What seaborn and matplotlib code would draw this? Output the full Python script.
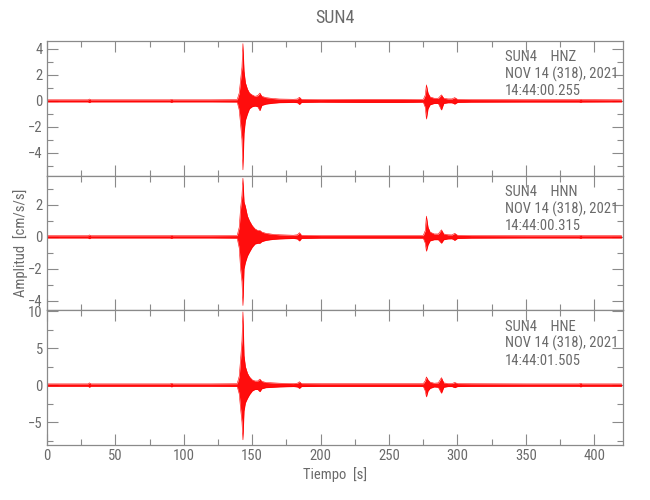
import numpy as np
import pandas as pd
import matplotlib
matplotlib.use("Agg")
import matplotlib.pyplot as plt
from matplotlib.ticker import MultipleLocator
from matplotlib import font_manager
import seaborn as sns

# ---- data (envelope of the traces) ----
title = "SUN4"
channels = ["HNZ", "HNN", "HNE"]
start_times = ["14:44:00.255", "14:44:00.315", "14:44:01.505"]
date_label = "NOV 14 (318), 2021"

t = [0, 10, 30, 31, 32, 60, 90, 91, 92, 120, 139, 140.5, 141.5, 142.5, 143.2, 144, 145,
     146.5, 148, 150, 152, 154, 155.6, 157, 160, 165, 170, 180, 183, 184.5, 186, 200,
     230, 260, 275, 276.5, 277.3, 278.5, 280, 283, 286, 288.3, 290, 293, 296, 298, 300,
     310, 350, 389, 390, 391, 420]

hnz_up = [0.08, 0.08, 0.08, 0.14, 0.08, 0.08, 0.08, 0.12, 0.08, 0.08, 0.09, 0.6, 1.6, 2.6,
          4.4, 2.3, 1.4, 0.9, 0.6, 0.45, 0.35, 0.4, 0.6, 0.35, 0.25, 0.18, 0.14, 0.12, 0.14,
          0.28, 0.12, 0.1, 0.12, 0.12, 0.1, 0.45, 1.23, 0.6, 0.3, 0.2, 0.2, 0.46, 0.2,
          0.15, 0.15, 0.25, 0.12, 0.1, 0.09, 0.09, 0.12, 0.09, 0.08]
hnz_lo = [-0.08, -0.08, -0.08, -0.14, -0.08, -0.08, -0.08, -0.12, -0.08, -0.08, -0.09, -0.7,
          -1.8, -3.0, -5.3, -2.5, -1.5, -1.0, -0.6, -0.45, -0.4, -0.45, -0.75, -0.35, -0.25,
          -0.18, -0.14, -0.12, -0.14, -0.28, -0.12, -0.1, -0.12, -0.12, -0.1, -0.5, -1.4,
          -0.6, -0.3, -0.2, -0.2, -0.7, -0.2, -0.15, -0.15, -0.25, -0.12, -0.1, -0.09,
          -0.09, -0.12, -0.09, -0.08]

hnn_up = [0.07, 0.07, 0.07, 0.12, 0.07, 0.07, 0.07, 0.1, 0.07, 0.07, 0.08, 0.6, 1.8, 2.6,
          3.67, 2.2, 1.9, 1.3, 1.0, 0.7, 0.5, 0.4, 0.4, 0.3, 0.22, 0.16, 0.13, 0.1,
          0.13, 0.26, 0.1, 0.08, 0.08, 0.08, 0.08, 0.4, 1.3, 0.6, 0.3, 0.18, 0.18, 0.44,
          0.18, 0.13, 0.12, 0.22, 0.1, 0.08, 0.07, 0.07, 0.1, 0.07, 0.07]
hnn_lo = [-0.07, -0.07, -0.07, -0.12, -0.07, -0.07, -0.07, -0.1, -0.07, -0.07, -0.08, -0.7,
          -2.0, -2.8, -4.3, -2.0, -1.6, -1.2, -0.95, -0.65, -0.45, -0.4, -0.4, -0.3, -0.22,
          -0.16, -0.13, -0.1, -0.13, -0.26, -0.1, -0.08, -0.08, -0.08, -0.08, -0.4, -0.9,
          -0.5, -0.25, -0.18, -0.18, -0.4, -0.18, -0.13, -0.12, -0.22, -0.1, -0.08, -0.07,
          -0.07, -0.1, -0.07, -0.07]

hne_up = [0.16, 0.16, 0.16, 0.3, 0.16, 0.16, 0.16, 0.25, 0.16, 0.16, 0.18, 1.2, 3.5, 6.0,
          9.9, 4.0, 2.5, 1.6, 1.1, 0.7, 0.55, 0.55, 0.8, 0.5, 0.35, 0.3, 0.25, 0.2, 0.25,
          0.45, 0.2, 0.18, 0.18, 0.18, 0.18, 0.6, 1.1, 0.7, 0.4, 0.25, 0.3, 1.0, 0.3, 0.2,
          0.2, 0.35, 0.2, 0.18, 0.16, 0.16, 0.25, 0.16, 0.16]
hne_lo = [-0.16, -0.16, -0.16, -0.3, -0.16, -0.16, -0.16, -0.25, -0.16, -0.16, -0.18,
          -1.2, -3.2, -5.0, -7.4, -3.5, -2.4, -1.8, -1.3, -0.8, -0.6, -0.6, -0.9, -0.5,
          -0.35, -0.3, -0.25, -0.2, -0.25, -0.45, -0.2, -0.18, -0.18, -0.18, -0.18, -0.8,
          -1.6, -0.8, -0.45, -0.25, -0.3, -1.1, -0.3, -0.2, -0.2, -0.35, -0.2, -0.18, -0.16,
          -0.16, -0.25, -0.16, -0.16]

uppers = [hnz_up, hnn_up, hne_up]
lowers = [hnz_lo, hnn_lo, hne_lo]
ylims = [(-5.75, 4.6), (-4.6, 3.83), (-8.1, 10.1)]
major_y = [2, 2, 5]
minor_y = [1, 1, 2.5]

# ---- style ----
sns.set_theme(style="white")
installed = {f.name for f in font_manager.fontManager.ttflist}
fams = [f for f in ["Liberation Sans Narrow", "DejaVu Sans Condensed", "Roboto Condensed",
                    "Open Sans Condensed", "DejaVu Sans"] if f in installed]
if not fams:
    fams = ["DejaVu Sans"]
plt.rcParams["font.family"] = fams + ["DejaVu Sans"]
condensed = fams[0] != "DejaVu Sans"
gray = "#8a8a8a"
tcol = "#6a6a6a"
fs = 10.5 if condensed else 9.2

fig = plt.figure(figsize=(6.5, 5), dpi=100)
left, right = 47 / 650, 623 / 650
top, bottom = 1 - 41 / 500, 1 - 445 / 500
h = (top - bottom) / 3
axes = []
for i in range(3):
    ax = fig.add_axes([left, top - (i + 1) * h, right - left, h])
    axes.append(ax)

for i, ax in enumerate(axes):
    df = pd.DataFrame({"t": t, "up": uppers[i], "lo": lowers[i]})
    ax.fill_between(df["t"], df["lo"], df["up"], color="#ff0000", lw=0,
                    alpha=0.95)
    sns.lineplot(data=df, x="t", y="up", ax=ax, color="#ff0000", lw=0.4)
    sns.lineplot(data=df, x="t", y="lo", ax=ax, color="#ff0000", lw=0.4)
    ax.set_xlim(0, 421)
    ax.set_ylim(*ylims[i])
    ax.xaxis.set_major_locator(MultipleLocator(50))
    ax.xaxis.set_minor_locator(MultipleLocator(25))
    ax.yaxis.set_major_locator(MultipleLocator(major_y[i]))
    ax.yaxis.set_minor_locator(MultipleLocator(minor_y[i]))
    ax.tick_params(which="both", direction="in", top=True, bottom=True, left=True,
                   right=True, color=gray, width=0.8, labelcolor=tcol, labelsize=fs,
                   pad=3)
    ax.tick_params(which="major", length=8)
    ax.tick_params(which="minor", length=4.5)
    for s in ax.spines.values():
        s.set_color(gray)
        s.set_linewidth(0.9)
    ax.set_xlabel("")
    ax.set_ylabel("")
    if i < 2:
        ax.tick_params(axis="x", labelbottom=False)
    ax.text(0.795, 0.93, f"SUN4    {channels[i]}\n{date_label}\n{start_times[i]}",
            transform=ax.transAxes, ha="left", va="top", fontsize=fs, color=tcol,
            linespacing=1.2)

axes[1].set_ylabel("Amplitud  [cm/s/s]", color=tcol, fontsize=fs, labelpad=0.5)
axes[2].set_xlabel("Tiempo  [s]", color=tcol, fontsize=fs, labelpad=3)
fig.text((left + right) / 2, 1 - 18 / 500, title, ha="center", va="center",
         fontsize=fs + 2.5, color=tcol)

fig.savefig("out.png", dpi=100)
